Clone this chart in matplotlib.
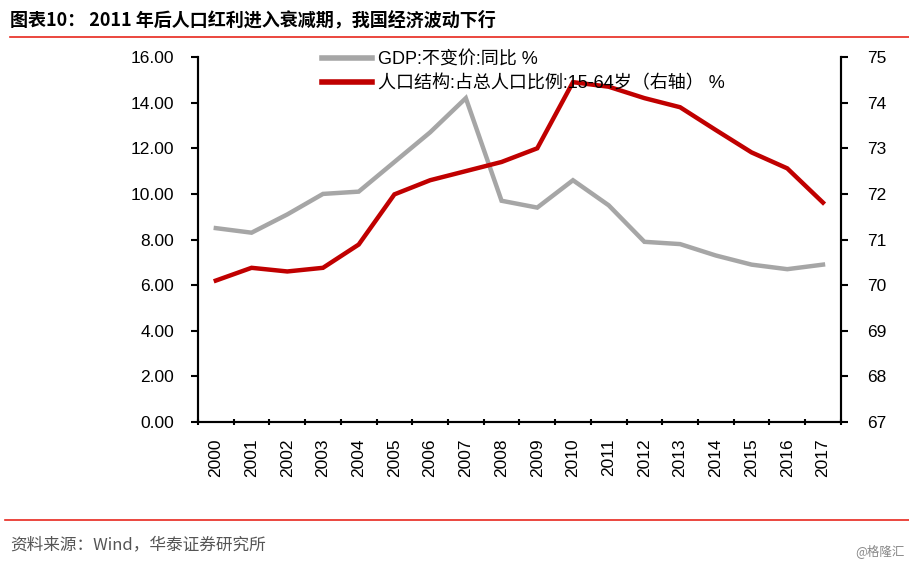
import matplotlib.pyplot as plt
from matplotlib.lines import Line2D

plt.rcParams['font.family'] = ['Liberation Sans', 'Noto Sans CJK SC', 'DejaVu Sans']

years = ['2000', '2001', '2002', '2003', '2004', '2005', '2006', '2007', '2008',
         '2009', '2010', '2011', '2012', '2013', '2014', '2015', '2016', '2017']
gdp = [8.5, 8.3, 9.1, 10.0, 10.1, 11.4, 12.7, 14.2, 9.7,
       9.4, 10.6, 9.5, 7.9, 7.8, 7.3, 6.9, 6.7, 6.9]
pop_15_64 = [70.1, 70.38, 70.3, 70.38, 70.89, 71.99, 72.3, 72.5, 72.7,
             73.0, 74.45, 74.35, 74.1, 73.9, 73.4, 72.91, 72.56, 71.81]

gdp_label = 'GDP:不变价:同比 %'
pop_label = '人口结构:占总人口比例:15-64岁（右轴） %'
title = '图表10： 2011 年后人口红利进入衰减期，我国经济波动下行'
source = '资料来源：Wind，华泰证券研究所'

GRAY = '#A6A6A6'
RED = '#C00000'

fig = plt.figure(figsize=(9.09, 5.65), dpi=100)
ax = fig.add_axes([0.2178, 0.2531, 0.7072, 0.6459])
ax2 = ax.twinx()

x = list(range(len(years)))
ax.plot(x, gdp, color=GRAY, lw=3.2, solid_joinstyle='miter')
ax2.plot(x, pop_15_64, color=RED, lw=3.2, solid_joinstyle='miter')

ax.set_xlim(-0.5, len(years) - 0.5)
ax.set_ylim(0, 16)
ax.set_yticks(range(0, 17, 2))
ax.set_yticklabels([f'{v:.2f}' for v in range(0, 17, 2)])
ax2.set_ylim(67, 75)
ax2.set_yticks(range(67, 76))

ax.set_xticks(x)
ax.set_xticklabels(years, rotation=90)
ax.set_xticks([i - 0.5 for i in range(len(years) + 1)], minor=True)
ax.tick_params(axis='x', which='major', length=0, pad=12, labelsize=12.5)
ax.tick_params(axis='x', which='minor', length=5, width=1.5, direction='inout')
ax.tick_params(axis='y', length=5, width=1.5, labelsize=12.5, pad=12)
ax2.tick_params(axis='y', length=5, width=1.5, labelsize=12.5, pad=14)

for a in (ax, ax2):
    a.spines['top'].set_visible(False)
    for s in ('left', 'right', 'bottom'):
        a.spines[s].set_linewidth(1.5)

handles = [Line2D([], [], color=GRAY, lw=4), Line2D([], [], color=RED, lw=4)]
fig.legend(handles, [gdp_label, pop_label], loc='upper left',
           bbox_to_anchor=(0.344, 0.925), frameon=False, borderpad=0,
           handlelength=2.8, handletextpad=0.3, labelspacing=0.35,
           prop={'family': ['Liberation Sans', 'Noto Sans CJK SC'], 'size': 13})

fig.text(0.011, 0.965, title, fontsize=13, fontweight='bold', va='center',
         family=['Noto Sans CJK SC', 'DejaVu Sans'])
fig.add_artist(Line2D([0.011, 1.0], [0.935, 0.935], color='#E8281E', lw=1.2))
fig.add_artist(Line2D([0.006, 1.0], [0.080, 0.080], color='#E8281E', lw=1.2))
fig.text(0.011, 0.036, source, fontsize=12, color='#555555', va='center',
         family=['Noto Sans CJK SC', 'DejaVu Sans'])
fig.text(0.995, 0.025, '@格隆汇', fontsize=9, color='#888888', va='center', ha='right',
         family=['Noto Sans CJK SC', 'DejaVu Sans'])

fig.savefig('out.png', dpi=100)
